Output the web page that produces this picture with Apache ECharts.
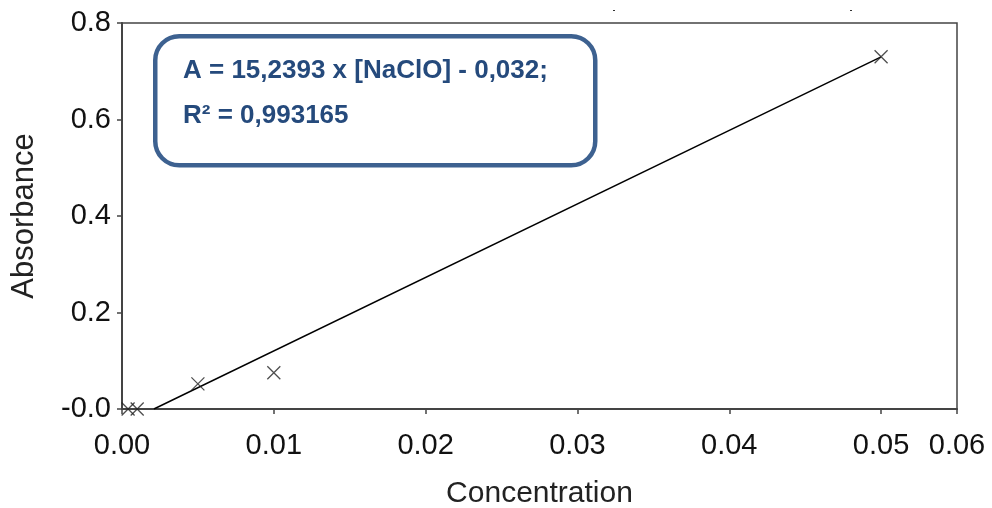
<!DOCTYPE html>
<html>
<head>
<meta charset="utf-8">
<script src="https://cdn.jsdelivr.net/npm/echarts@6/dist/echarts.min.js"></script>
<style>html,body{margin:0;padding:0;background:#fff;}#c{width:992px;height:508px;}</style>
</head>
<body>
<div id="c"></div>
<script>
// Data
var concentration = [0.0004, 0.0010, 0.0050, 0.0100, 0.0500];
var absorbance    = [0.000, 0.000, 0.052, 0.075, 0.730];
var trendX = [0.0021, 0.0500];
var trendY = [0.000, 0.730];
var xTickLabels = ['0.00', '0.01', '0.02', '0.03', '0.04', '0.05', '0.06'];
var yTickLabels = ['-0.0', '0.2', '0.4', '0.6', '0.8'];
var eqLine1 = 'A = 15,2393 x [NaClO] - 0,032;';
var eqLine2 = 'R\u00B2 = 0,993165';

var chart = echarts.init(document.getElementById('c'), null, {renderer: 'canvas'});
var font = 'Liberation Sans, Arial, sans-serif';
chart.setOption({
  animation: false,
  backgroundColor: '#fff',
  grid: {left: 122, top: 23, right: 35, bottom: 99, outerBoundsMode: 'none', containLabel: false,
         show: true, borderColor: '#444', borderWidth: 1.5, backgroundColor: 'transparent'},
  xAxis: {
    type: 'value', min: 0, max: 0.055, interval: 0.01,
    name: 'Concentration', nameLocation: 'middle', nameGap: 70,
    nameTextStyle: {fontFamily: font, fontSize: 30, color: '#222'},
    axisLine: {show: true, onZero: false, lineStyle: {color: '#444', width: 2}},
    axisTick: {show: true, length: 5, lineStyle: {color: '#444', width: 1.5}},
    splitLine: {show: false},
    axisLabel: {
      margin: 22, fontFamily: font, fontSize: 29, color: '#111',
      showMaxLabel: true,
      formatter: function (v, i) { return xTickLabels[i] !== undefined ? xTickLabels[i] : ''; }
    }
  },
  yAxis: {
    type: 'value', min: 0, max: 0.8, interval: 0.2,
    name: 'Absorbance', nameLocation: 'middle', nameGap: 82, nameRotate: 90,
    nameTextStyle: {fontFamily: font, fontSize: 31, color: '#222'},
    axisLine: {show: true, onZero: false, lineStyle: {color: '#444', width: 2}},
    axisTick: {show: true, length: 5, lineStyle: {color: '#444', width: 1.5}},
    splitLine: {show: false},
    axisLabel: {
      margin: 11, fontFamily: font, fontSize: 29, color: '#111',
      formatter: function (v, i) { return yTickLabels[i] !== undefined ? yTickLabels[i] : ''; }
    }
  },
  series: [
    {
      type: 'line',
      data: trendX.map(function (x, i) { return [x, trendY[i]]; }),
      symbol: 'none',
      lineStyle: {color: '#000', width: 1.4},
      z: 2
    },
    {
      type: 'scatter',
      data: concentration.map(function (x, i) { return [x, absorbance[i]]; }),
      symbol: 'path://M0,0L10,10M10,0L0,10',
      symbolSize: 13,
      itemStyle: {color: 'transparent', borderColor: '#222', borderWidth: 1.3},
      z: 3
    }
  ],
  graphic: [
    {
      type: 'rect', left: 153, top: 34,
      shape: {width: 440, height: 129, r: 24},
      style: {fill: '#fff', stroke: '#3d6190', lineWidth: 4.5},
      z: 10
    },
    {
      type: 'text', left: 183, top: 58,
      style: {text: eqLine1, fill: '#254a7c', font: 'bold 26px ' + font},
      z: 11
    },
    {
      type: 'text', left: 183, top: 103,
      style: {text: eqLine2, fill: '#254a7c', font: 'bold 26px ' + font},
      z: 11
    },
    {type: 'rect', left: 613, top: 10, shape: {width: 2, height: 1}, style: {fill: '#333'}},
    {type: 'rect', left: 850, top: 10, shape: {width: 2, height: 1}, style: {fill: '#333'}}
  ]
});
</script>
</body>
</html>
